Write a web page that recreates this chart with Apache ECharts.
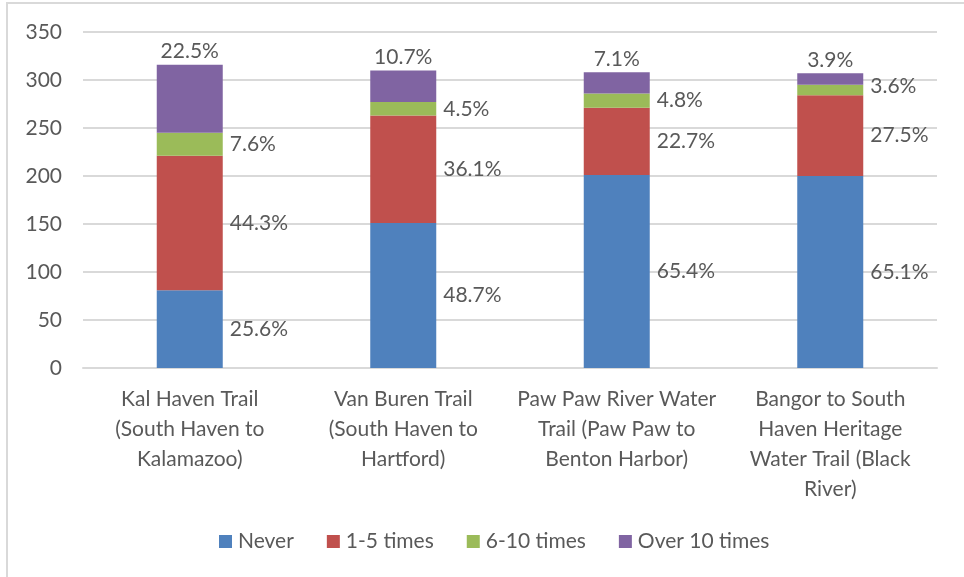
<!DOCTYPE html>
<html>
<head>
<meta charset="utf-8">
<script src="https://cdn.jsdelivr.net/npm/echarts@6/dist/echarts.min.js"></script>
<style>
  html, body { margin: 0; padding: 0; background: #ffffff; }
  #chart { width: 964px; height: 577px; }
</style>
</head>
<body>
<div id="chart"></div>
<script>
// ---- Data ----
const categories = [
  'Kal Haven Trail\n(South Haven to\nKalamazoo)',
  'Van Buren Trail\n(South Haven to\nHartford)',
  'Paw Paw River Water\nTrail (Paw Paw to\nBenton Harbor)',
  'Bangor to South\nHaven Heritage\nWater Trail (Black\nRiver)'
];
const seriesNames = ['Never', '1-5 times', '6-10 times', 'Over 10 times'];
const neverValues   = [81, 151, 201, 200];
const times1to5     = [140, 112, 70, 84];
const times6to10    = [24, 14, 15, 11];
const over10Values  = [71, 33, 22, 12];
const pctNever   = ['25.6%', '48.7%', '65.4%', '65.1%'];
const pct1to5    = ['44.3%', '36.1%', '22.7%', '27.5%'];
const pct6to10   = ['7.6%', '4.5%', '4.8%', '3.6%'];
const pctOver10  = ['22.5%', '10.7%', '7.1%', '3.9%'];
const yTicks = { min: 0, max: 350, interval: 50 };

// ---- Styles ----
const colors = ['#4F81BD', '#C0504D', '#9BBB59', '#8064A2'];
const textColor = '#595959';
const font = 'Lato, "Open Sans", sans-serif';
const fontSize = 21;

function makeSeries(name, values, pcts, color, position, distance, offsets) {
  return {
    name: name,
    type: 'bar',
    stack: 'total',
    barWidth: 66,
    itemStyle: { color: color },
    data: values.map(function (v, i) {
      const item = { value: v };
      if (offsets && offsets[i]) item.label = { offset: offsets[i] };
      return item;
    }),
    label: {
      show: true,
      position: position,
      distance: distance,
      color: textColor,
      fontFamily: font,
      fontSize: fontSize,
      formatter: function (p) { return pcts[p.dataIndex]; }
    }
  };
}

const chart = echarts.init(document.getElementById('chart'), null, { renderer: 'canvas' });
chart.setOption({
  animation: false,
  backgroundColor: '#ffffff',
  textStyle: { fontFamily: font },
  graphic: [{
    type: 'rect',
    silent: true,
    shape: { x: 7, y: 3, width: 1000, height: 1000 },
    style: { fill: 'none', stroke: '#D9D9D9', lineWidth: 2 }
  }],
  grid: { left: 83, right: 27, top: 32, bottom: 209, containLabel: false },
  legend: {
    data: seriesNames,
    left: 214,
    top: 526,
    icon: 'rect',
    itemWidth: 13,
    itemHeight: 13,
    itemGap: 33,
    textStyle: { color: textColor, fontFamily: font, fontSize: fontSize, padding: [0, 0, 0, 1] }
  },
  xAxis: {
    type: 'category',
    data: categories,
    axisLine: { lineStyle: { color: '#D9D9D9', width: 2 } },
    axisTick: { show: false },
    axisLabel: {
      color: textColor,
      fontFamily: font,
      fontSize: fontSize,
      lineHeight: 30,
      margin: 16,
      interval: 0
    }
  },
  yAxis: {
    type: 'value',
    min: yTicks.min,
    max: yTicks.max,
    interval: yTicks.interval,
    axisLine: { show: false },
    axisTick: { show: false },
    splitLine: { lineStyle: { color: '#D9D9D9', width: 2 } },
    axisLabel: {
      color: textColor,
      fontFamily: font,
      fontSize: fontSize,
      margin: 21
    }
  },
  series: [
    makeSeries(seriesNames[0], neverValues, pctNever, colors[0], 'right', 7),
    makeSeries(seriesNames[1], times1to5, pct1to5, colors[1], 'right', 7),
    makeSeries(seriesNames[2], times6to10, pct6to10, colors[2], 'right', 7, [null, null, null, [0, -4]]),
    makeSeries(seriesNames[3], over10Values, pctOver10, colors[3], 'top', 3)
  ]
});
</script>
</body>
</html>
